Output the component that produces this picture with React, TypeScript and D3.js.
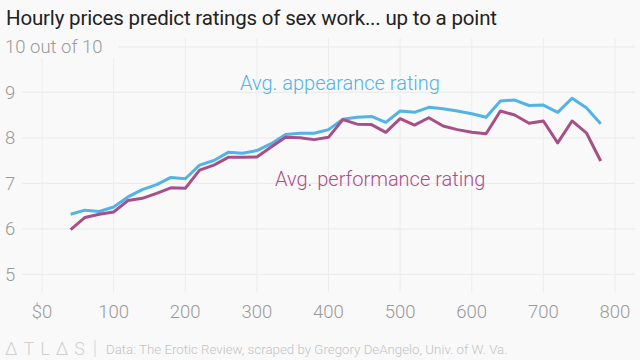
import React from "react";
import * as d3 from "d3";

const prices = [40, 60, 80, 100, 120, 140, 160, 180, 200, 220, 240, 260, 280, 300, 320, 340, 360, 380, 400,
  420, 440, 460, 480, 500, 520, 540, 560, 580, 600, 620, 640, 660, 680, 700, 720, 740, 760, 780];

const appearance = [6.32, 6.41, 6.38, 6.48, 6.7, 6.86, 6.97, 7.13, 7.1, 7.4, 7.5, 7.68, 7.66, 7.72, 7.87, 8.07, 8.1, 8.1, 8.18,
  8.41, 8.45, 8.47, 8.34, 8.59, 8.56, 8.67, 8.64, 8.59, 8.53, 8.45, 8.81, 8.83, 8.71, 8.72, 8.56, 8.87, 8.66, 8.31];

const performance = [5.98, 6.25, 6.32, 6.37, 6.62, 6.67, 6.78, 6.9, 6.89, 7.29, 7.4, 7.57, 7.57, 7.58, 7.8, 8.01, 8.0, 7.96, 8.01,
  8.4, 8.3, 8.29, 8.12, 8.42, 8.28, 8.44, 8.26, 8.18, 8.12, 8.09, 8.59, 8.5, 8.32, 8.37, 7.89, 8.37, 8.11, 7.49];

const xTicks = [0, 100, 200, 300, 400, 500, 600, 700, 800];
const yTicks = [5, 6, 7, 8, 9, 10];

const title = "Hourly prices predict ratings of sex work... up to a point";
const source = "Data: The Erotic Review, scraped by Gregory DeAngelo, Univ. of W. Va.";

const W = 640;
const H = 360;
const bg = "#f9f9f9";
const blue = "#51b3e6";
const purple = "#a94f88";
const font = "Roboto, 'Noto Sans', sans-serif";

export default function App() {
  const x = d3.scaleLinear().domain([0, 800]).range([42, 615]);
  const y = d3.scaleLinear().domain([5, 10]).range([274.3, 46.8]);

  const line = d3.line<number>()
    .x((_, i) => x(prices[i]))
    .y(d => y(d));

  return (
    <svg width={W} height={H} style={{ position: "absolute", left: 0, top: 0, background: bg }}>
      <rect width={W} height={H} fill={bg} />
      <text x={6} y={25} fontFamily={font} fontSize={20.5} fill="#222" textLength={491}>{title}</text>

      {/* vertical grid */}
      {xTicks.map(t => (
        <line key={"vx" + t} x1={x(t)} x2={x(t)} y1={38} y2={292} stroke="#ececec" strokeWidth={1} />
      ))}
      {/* horizontal grid */}
      {yTicks.map(t => (
        <line key={"hy" + t} x1={t === 10 ? 118 : 22} x2={635} y1={y(t)} y2={y(t)} stroke="#ececec" strokeWidth={1.3} />
      ))}

      {/* y labels */}
      <rect x={0} y={36} width={114} height={22} fill={bg} />
      {yTicks.map(t => (
        <text key={"yl" + t} x={5} y={y(t)} dy="0.35em" fontFamily={font} fontWeight={300}
          fontSize={18.5} fill="#999">{t === 10 ? "10 out of 10" : t}</text>
      ))}

      {/* x labels */}
      {xTicks.map(t => (
        <text key={"xl" + t} x={x(t)} y={318} textAnchor="middle" fontFamily={font} fontWeight={300}
          fontSize={18.5} fill="#999">{t === 0 ? "$0" : t}</text>
      ))}

      <path d={line(appearance) || ""} fill="none" stroke={blue} strokeWidth={3} strokeLinejoin="round" />
      <path d={line(performance) || ""} fill="none" stroke={purple} strokeWidth={3} strokeLinejoin="round" />

      <text x={240} y={90} fontFamily={font} fontWeight={300} fontSize={20} fill={blue}>Avg. appearance rating</text>
      <text x={275} y={186} fontFamily={font} fontWeight={300} fontSize={20} fill={purple}>Avg. performance rating</text>

      {/* footer */}
      <text x={5} y={355} fontFamily={font} fontWeight={300} fontSize={18} letterSpacing={6} fill="#d0d0d0">ΔTLΔS</text>
      <line x1={95} x2={95} y1={340} y2={357} stroke="#d5d5d5" strokeWidth={1} />
      <text x={106} y={354} fontFamily={font} fontWeight={300} fontSize={13.3} fill="#c4c4c4">{source}</text>
    </svg>
  );
}
